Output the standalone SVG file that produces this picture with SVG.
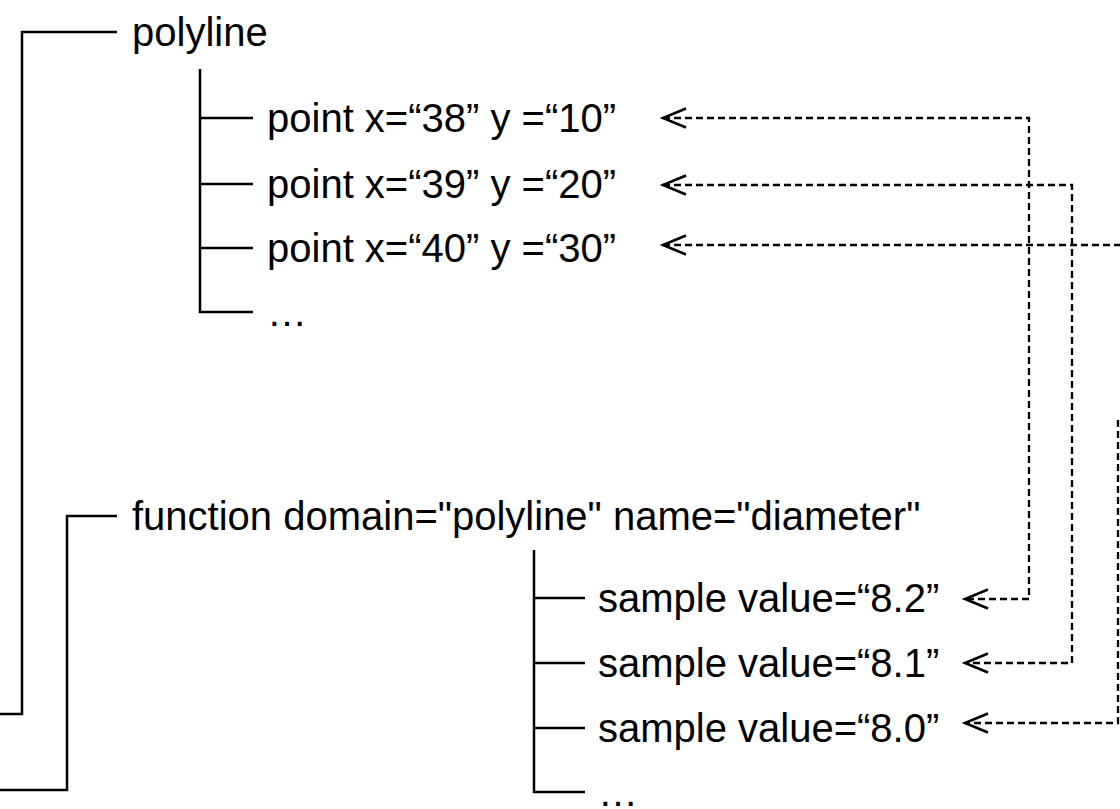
<svg xmlns="http://www.w3.org/2000/svg" width="1120" height="809" viewBox="0 0 1120 809">
<style>
  text { font-family: "Liberation Sans", Arial, Helvetica, sans-serif; font-size: 40px; fill: #000; }
  .tree { fill: none; stroke: #000; stroke-width: 2.5; stroke-linejoin: miter; }
  .link { fill: none; stroke: #000; stroke-width: 2.3; stroke-dasharray: 7 4; }
</style>
<defs>
  <marker id="arr" markerUnits="userSpaceOnUse" markerWidth="40" markerHeight="40" viewBox="-30 -15 40 30" refX="0" refY="0" orient="auto-start-reverse" overflow="visible">
    <path d="M-23,-9.5 L0,0 L-23,9.5" fill="none" stroke="#000" stroke-width="2.6" stroke-linejoin="miter"/>
  </marker>
</defs>
<rect width="1120" height="809" fill="#fff"/>

<g id="polyline">
  <path class="tree" d="M0,714 H22 V32 H117"/>
  <text x="132" y="46">polyline</text>
</g>
<g id="points">
  <path class="tree" d="M200,69 V312 H253 M200,118 H253 M200,184 H253 M200,248 H253"/>
  <g id="point38"><text x="267" y="132">point x=“38” y =“10”</text></g>
  <g id="point39"><text x="267" y="198">point x=“39” y =“20”</text></g>
  <g id="point40"><text x="267" y="262">point x=“40” y =“30”</text></g>
  <g id="pointmore"><text x="267" y="326">…</text></g>
</g>

<g id="function">
  <path class="tree" d="M0,790 H67 V516 H117"/>
  <text x="132" y="530">function domain="polyline" name="diameter"</text>
</g>
<g id="samples">
  <path class="tree" d="M534,550 V792 H585 M534,598 H585 M534,663 H585 M534,728 H585"/>
  <g id="sample82"><text x="598" y="612">sample value=“8.2”</text></g>
  <g id="sample81"><text x="598" y="677">sample value=“8.1”</text></g>
  <g id="sample80"><text x="598" y="742">sample value=“8.0”</text></g>
  <g id="samplemore"><text x="598" y="806">…</text></g>
</g>

<g id="connectors">
  <path class="link" d="M663,118 H1029 V599 H965" marker-start="url(#arr)" marker-end="url(#arr)"/>
  <path class="link" d="M663,185 H1072 V663 H965" marker-start="url(#arr)" marker-end="url(#arr)"/>
  <path class="link" d="M663,245 H1122" marker-start="url(#arr)"/>
  <path class="link" d="M1118,420 V723 H965" marker-end="url(#arr)"/>
</g>
</svg>
